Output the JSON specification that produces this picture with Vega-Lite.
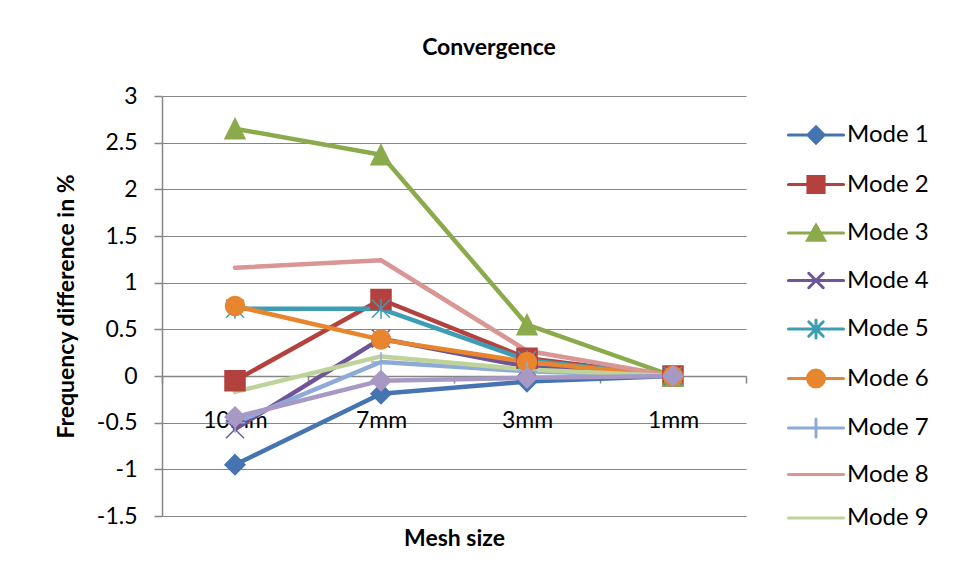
{
  "$schema": "https://vega.github.io/schema/vega-lite/v6.json",
  "width": 584,
  "height": 420,
  "autosize": {"type": "none"},
  "padding": {"left": 162, "top": 96, "right": 210, "bottom": 63},
  "background": "white",
  "title": {"text": "Convergence", "font": "Lato", "fontSize": 23, "fontWeight": "bold", "color": "black", "baseline": "alphabetic", "offset": 7, "dx": 35, "anchor": "middle"},
  "config": {"view": {"stroke": null}, "font": "Lato"},
  "data": {
    "values": [
      {"mode": "Mode 1", "mesh": "10mm", "step": 1, "value": -0.95},
      {"mode": "Mode 1", "mesh": "7mm", "step": 2, "value": -0.19},
      {"mode": "Mode 1", "mesh": "3mm", "step": 3, "value": -0.06},
      {"mode": "Mode 1", "mesh": "1mm", "step": 4, "value": 0},
      {"mode": "Mode 2", "mesh": "10mm", "step": 1, "value": -0.05},
      {"mode": "Mode 2", "mesh": "7mm", "step": 2, "value": 0.82},
      {"mode": "Mode 2", "mesh": "3mm", "step": 3, "value": 0.19},
      {"mode": "Mode 2", "mesh": "1mm", "step": 4, "value": 0},
      {"mode": "Mode 3", "mesh": "10mm", "step": 1, "value": 2.65},
      {"mode": "Mode 3", "mesh": "7mm", "step": 2, "value": 2.37},
      {"mode": "Mode 3", "mesh": "3mm", "step": 3, "value": 0.55},
      {"mode": "Mode 3", "mesh": "1mm", "step": 4, "value": 0},
      {"mode": "Mode 4", "mesh": "10mm", "step": 1, "value": -0.57},
      {"mode": "Mode 4", "mesh": "7mm", "step": 2, "value": 0.40},
      {"mode": "Mode 4", "mesh": "3mm", "step": 3, "value": 0.10},
      {"mode": "Mode 4", "mesh": "1mm", "step": 4, "value": 0},
      {"mode": "Mode 5", "mesh": "10mm", "step": 1, "value": 0.72},
      {"mode": "Mode 5", "mesh": "7mm", "step": 2, "value": 0.72},
      {"mode": "Mode 5", "mesh": "3mm", "step": 3, "value": 0.17},
      {"mode": "Mode 5", "mesh": "1mm", "step": 4, "value": 0},
      {"mode": "Mode 6", "mesh": "10mm", "step": 1, "value": 0.75},
      {"mode": "Mode 6", "mesh": "7mm", "step": 2, "value": 0.39},
      {"mode": "Mode 6", "mesh": "3mm", "step": 3, "value": 0.15},
      {"mode": "Mode 6", "mesh": "1mm", "step": 4, "value": 0},
      {"mode": "Mode 7", "mesh": "10mm", "step": 1, "value": -0.50},
      {"mode": "Mode 7", "mesh": "7mm", "step": 2, "value": 0.15},
      {"mode": "Mode 7", "mesh": "3mm", "step": 3, "value": 0.05},
      {"mode": "Mode 7", "mesh": "1mm", "step": 4, "value": 0},
      {"mode": "Mode 8", "mesh": "10mm", "step": 1, "value": 1.16},
      {"mode": "Mode 8", "mesh": "7mm", "step": 2, "value": 1.24},
      {"mode": "Mode 8", "mesh": "3mm", "step": 3, "value": 0.27},
      {"mode": "Mode 8", "mesh": "1mm", "step": 4, "value": 0},
      {"mode": "Mode 9", "mesh": "10mm", "step": 1, "value": -0.17},
      {"mode": "Mode 9", "mesh": "7mm", "step": 2, "value": 0.21},
      {"mode": "Mode 9", "mesh": "3mm", "step": 3, "value": 0.07},
      {"mode": "Mode 9", "mesh": "1mm", "step": 4, "value": 0},
      {"mode": "Mode 10", "mesh": "10mm", "step": 1, "value": -0.44},
      {"mode": "Mode 10", "mesh": "7mm", "step": 2, "value": -0.05},
      {"mode": "Mode 10", "mesh": "3mm", "step": 3, "value": -0.02},
      {"mode": "Mode 10", "mesh": "1mm", "step": 4, "value": 0}
    ]
  },
  "encoding": {
    "x": {
      "field": "mesh", "type": "nominal", "sort": ["10mm", "7mm", "3mm", "1mm"],
      "scale": {"type": "band", "paddingInner": 0, "paddingOuter": 0},
      "axis": {
        "title": "Mesh size", "offset": -140, "grid": false, "labelAngle": 0,
        "domainColor": "#868686", "domainWidth": 1.5,
        "tickColor": "#868686", "tickWidth": 1.5, "tickSize": 7, "tickBand": "extent",
        "labelFont": "Lato", "labelFontSize": 23, "labelColor": "black", "labelBaseline": "alphabetic", "labelPadding": 44,
        "titleFont": "Lato", "titleFontSize": 23, "titleFontWeight": "bold", "titleColor": "black", "titleBaseline": "alphabetic", "titleY": 169
      }
    },
    "y": {
      "field": "value", "type": "quantitative",
      "scale": {"domain": [-1.5, 3], "nice": false, "zero": false},
      "axis": {
        "title": "Frequency difference in %", "values": [-1.5, -1, -0.5, 0, 0.5, 1, 1.5, 2, 2.5, 3],
        "labelExpr": "toString(datum.value)",
        "domainColor": "#868686", "domainWidth": 1.5,
        "tickColor": "#868686", "tickWidth": 1.5, "tickSize": 8,
        "gridColor": "#868686", "gridWidth": 1.2,
        "labelFont": "Lato", "labelFontSize": 23, "labelColor": "black", "labelPadding": 17,
        "titleFont": "Lato", "titleFontSize": 23, "titleFontWeight": "bold", "titleColor": "black", "titlePadding": 18
      }
    }
  },
  "layer": [
    {
      "mark": {"type": "line", "strokeWidth": 4.5, "strokeCap": "round", "strokeJoin": "round"},
      "encoding": {
        "order": {"field": "step", "type": "quantitative"},
        "color": {
          "field": "mode", "type": "nominal",
          "scale": {
            "domain": ["Mode 1", "Mode 2", "Mode 3", "Mode 4", "Mode 5", "Mode 6", "Mode 7", "Mode 8", "Mode 9", "Mode 10"],
            "range": ["#4674B1", "#B3413E", "#8BAA4C", "#6F5597", "#3D9DB5", "#E8852F", "#8EABD8", "#D99694", "#BDD39A", "#A899C4"]
          },
          "legend": {
            "orient": "none", "legendX": 642, "legendY": 27, "title": null, "padding": 0,
            "values": ["Mode 1", "Mode 2", "Mode 3", "Mode 4", "Mode 5", "Mode 6", "Mode 7", "Mode 8", "Mode 9"],
            "labelFont": "Lato", "labelFontSize": 24, "labelColor": "black", "labelOffset": 19,
            "symbolSize": 289, "symbolStrokeWidth": 3, "symbolOffset": 0, "rowPadding": 19.5,
            "encode": {
              "symbols": {
                "update": {
                  "shape": {"signal": "datum.value == 'Mode 1' ? 'M-3.24,0H3.24M0,-0.95L0.95,0L0,0.95L-0.95,0Z' : datum.value == 'Mode 2' ? 'M-3.24,0H3.24M-0.95,-0.95H0.95V0.95H-0.95Z' : datum.value == 'Mode 3' ? 'M-3.24,0H3.24M0,-0.9L1,0.85L-1,0.85Z' : datum.value == 'Mode 4' ? 'M-3.24,0H3.24M-0.85,-0.85L0.85,0.85M-0.85,0.85L0.85,-0.85' : datum.value == 'Mode 5' ? 'M-3.24,0H3.24M-0.85,-0.85L0.85,0.85M-0.85,0.85L0.85,-0.85M0,-1.05V1.05' : datum.value == 'Mode 6' ? 'M-3.24,0H3.24M1,0A1,1,0,1,1,-1,0A1,1,0,1,1,1,0Z' : datum.value == 'Mode 7' ? 'M-3.24,0H3.24M0,-1.05V1.05' : 'M-3.24,0H3.24'"},
                  "fill": {"signal": "scale('color', datum.value)"},
                  "stroke": {"signal": "scale('color', datum.value)"},
                  "strokeWidth": {"value": 3},
                  "strokeCap": {"value": "round"},
                  "size": {"value": 289},
                  "opacity": {"value": 1}
                }
              }
            }
          }
        }
      }
    },
    {
      "transform": [{"filter": {"field": "mode", "oneOf": ["Mode 1", "Mode 2", "Mode 3", "Mode 4", "Mode 5", "Mode 6", "Mode 7", "Mode 10"]}}],
      "mark": {"type": "point", "filled": true, "size": 400, "strokeWidth": 1.5, "opacity": 1},
      "encoding": {
        "color": {"field": "mode", "type": "nominal"},
        "stroke": {
          "field": "mode", "type": "nominal", "legend": null,
          "scale": {
            "domain": ["Mode 1", "Mode 2", "Mode 3", "Mode 4", "Mode 5", "Mode 6", "Mode 7", "Mode 8", "Mode 9", "Mode 10"],
            "range": ["#4674B1", "#B3413E", "#8BAA4C", "#6F5597", "#3D9DB5", "#E8852F", "#8EABD8", "#D99694", "#BDD39A", "#A899C4"]
          }
        },
        "shape": {
          "field": "mode", "type": "nominal", "legend": null,
          "scale": {
            "domain": ["Mode 1", "Mode 2", "Mode 3", "Mode 4", "Mode 5", "Mode 6", "Mode 7", "Mode 10"],
            "range": ["M0,-1L1,0L0,1L-1,0Z", "M-1,-1H1V1H-1Z", "M0,-1L1,1L-1,1Z", "M-0.9,-0.9L0.9,0.9M-0.9,0.9L0.9,-0.9", "M-0.9,-0.9L0.9,0.9M-0.9,0.9L0.9,-0.9M0,-1V1", "M0.95,0A0.95,0.95,0,1,1,-0.95,0A0.95,0.95,0,1,1,0.95,0Z", "M-1,0H1M0,-1V1", "M0,-1L1,0L0,1L-1,0Z"]
          }
        }
      }
    }
  ]
}
